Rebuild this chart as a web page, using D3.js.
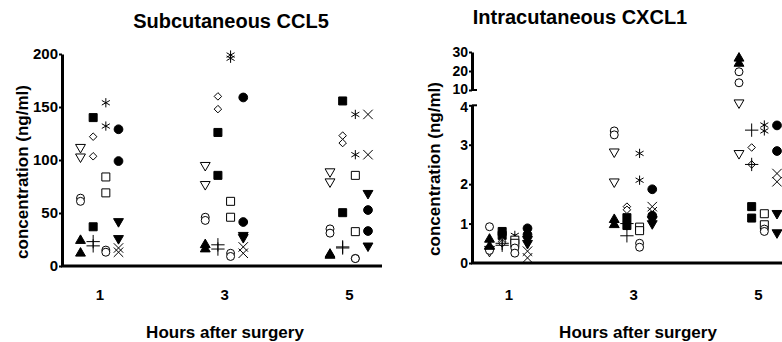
<!DOCTYPE html>
<html>
<head>
<meta charset="utf-8">
<script src="https://cdn.jsdelivr.net/npm/d3@7"></script>
<style>
  body { margin: 0; background: #fff; }
  svg { display: block; font-family: "Liberation Sans", Arial, sans-serif; font-weight: bold; }
  .axis path, .axis line { stroke: #000; }
  .axis text { font-size: 15px; font-weight: bold; fill: #000; }
  .axis.small text { font-size: 14px; }
</style>
</head>
<body>
<svg id="chart" width="782" height="342"></svg>
<script>
// hours on the x axis
const hours = [1, 3, 5];
// one symbol per series, in the order the values below are listed
const seriesNames = ["triDownOpen", "circleOpen", "triUpFilled", "squareFilled", "diamondOpen", "plus",
  "asterisk", "squareOpen", "circleSmall", "circleFilled", "triDownFilled", "cross"];
// column each series sits in, inside an hour group
const seriesColumn = [0, 0, 0, 1, 1, 1, 2, 2, 2, 3, 3, 3];

// Subcutaneous CCL5 (ng/ml), two values per series
const ccl5Hour1 = [[112, 103], [64, 61], [24, 12], [140, 37], [122, 103.5], [23, 19], [154, 132], [84, 69], [15, 13], [129, 99], [42, 26], [17, 13]];
const ccl5Hour3 = [[95, 77], [46, 43], [20, 16], [126, 85.5], [160, 148], [20, 16], [199, 196], [61, 46], [12, 9], [159, 41.5], [29, 27], [18, 12]];
const ccl5Hour5 = [[89, 79.5], [35, 31], [11, 10], [155.7, 50.3], [123, 116], [18, 17], [143, 105], [85.5, 32.4], [7.2, 7], [52.8, 33], [68.6, 19], [143, 105]];

// Intracutaneous CXCL1 (ng/ml)
const cxcl1Hour1 = [[0.35, 0.3], [0.92, 0.32], [0.6, 0.42], [0.8, 0.7], [0.55, 0.5], [0.5, 0.45], [0.7, 0.62], [0.58, 0.5], [0.38, 0.25], [0.88, 0.72], [0.6, 0.5], [0.3, 0.13]];
const cxcl1Hour3 = [[2.82, 2.06], [3.35, 3.25], [1.1, 0.97], [1.15, 0.95], [1.43, 1.35], [1.0, 0.69], [2.78, 2.1], [0.91, 0.82], [0.5, 0.4], [1.87, 1.2], [1.1, 1.0], [1.43, 1.3]];
const cxcl1Hour5 = [[5, 2.78], [19.6, 13.8], [26.7, 24], [1.43, 1.14], [2.93, 2.5], [3.37, 2.5], [3.5, 3.35], [1.25, 0.97], [0.86, 0.8], [3.49, 2.84], [1.26, 0.77], [2.27, 2.06]];

const ccl5Ticks = [0, 50, 100, 150, 200];
const cxcl1LowTicks = [0, 1, 2, 3, 4];
const cxcl1HighTicks = [10, 20, 30];

const svg = d3.select("#chart");

// symbol shape + fill per series
const symbolStyle = {
  triDownOpen:   { type: d3.symbolTriangle, size: 42, fill: "#fff", rot: 180 },
  circleOpen:    { type: d3.symbolCircle, size: 50, fill: "#fff" },
  triUpFilled:   { type: d3.symbolTriangle, size: 42, fill: "#000" },
  squareFilled:  { type: d3.symbolSquare, size: 64, fill: "#000" },
  diamondOpen:   { type: d3.symbolDiamond2, size: 36, fill: "#fff" },
  plus:          { type: d3.symbolPlus, size: 60, fill: "none" },
  asterisk:      { type: d3.symbolAsterisk, size: 60, fill: "none" },
  squareOpen:    { type: d3.symbolSquare, size: 64, fill: "#fff" },
  circleSmall:   { type: d3.symbolCircle, size: 50, fill: "#fff" },
  circleFilled:  { type: d3.symbolCircle, size: 60, fill: "#000" },
  triDownFilled: { type: d3.symbolTriangle, size: 42, fill: "#000", rot: 180 },
  cross:         { type: d3.symbolTimes, size: 60, fill: "none" }
};

const colScale = d3.scalePoint().domain([0, 1, 2, 3]).range([-19, 19]);
const intFmt = d3.format("d");

function flatten(hourArrays) {
  const pts = [];
  hourArrays.forEach((arr, hi) => {
    arr.forEach((pair, si) => {
      pair.forEach(v => pts.push({ hour: hours[hi], series: seriesNames[si], col: seriesColumn[si], value: v }));
    });
  });
  return pts;
}

function drawPoints(g, pts, x, y) {
  g.selectAll(".pt").data(pts).enter().append("path")
    .attr("class", "pt")
    .attr("d", d => d3.symbol().type(symbolStyle[d.series].type).size(symbolStyle[d.series].size)())
    .attr("transform", d => "translate(" + (x(d.hour) + colScale(d.col)) + "," + y(d.value) + ")" +
      (symbolStyle[d.series].rot ? " rotate(" + symbolStyle[d.series].rot + ")" : ""))
    .attr("fill", d => symbolStyle[d.series].fill)
    .attr("stroke", "#000")
    .attr("stroke-width", 1);
}

function styleYAxis(ax) {
  ax.select(".domain").attr("stroke-width", 3);
  ax.selectAll(".tick line").attr("stroke-width", 2);
}

// ---------- left panel: CCL5 ----------
const xL = d3.scalePoint().domain(hours).range([99.5, 349]);
const yL = d3.scaleLinear().domain([0, 200]).range([266, 54]);

svg.append("text").attr("x", 231).attr("y", 28).attr("text-anchor", "middle")
  .style("font-size", "20px").text("Subcutaneous CCL5");

svg.append("g").attr("class", "axis").attr("transform", "translate(62,0)")
  .call(d3.axisLeft(yL).tickValues(ccl5Ticks).tickFormat(intFmt).tickSize(3).tickPadding(1).tickSizeOuter(0))
  .call(styleYAxis);

svg.append("line").attr("x1", 61).attr("x2", 382).attr("y1", yL(0)).attr("y2", yL(0))
  .attr("stroke", "#000").attr("stroke-width", 3);

svg.append("g").attr("class", "axis").attr("transform", "translate(0,289)")
  .call(d3.axisBottom(xL).tickSize(0).tickPadding(0))
  .call(g => g.select(".domain").remove());

svg.append("text").attr("transform", "translate(28,172) rotate(-90)").attr("text-anchor", "middle")
  .style("font-size", "17px").text("concentration (ng/ml)");
svg.append("text").attr("x", 225).attr("y", 338).attr("text-anchor", "middle")
  .style("font-size", "17px").text("Hours after surgery");

drawPoints(svg.append("g"), flatten([ccl5Hour1, ccl5Hour3, ccl5Hour5]), xL, yL);

// ---------- right panel: CXCL1, broken y axis ----------
const xR = d3.scalePoint().domain(hours).range([508.5, 758]);
const yR = d3.scaleLinear().domain([0, 4, 10, 30]).range([263, 105.3, 90, 52]);
const yRLow = d3.scaleLinear().domain([0, 4]).range([263, 105.3]);
const yRHigh = d3.scaleLinear().domain([10, 30]).range([90, 52]);

svg.append("text").attr("x", 580).attr("y", 24).attr("text-anchor", "middle")
  .style("font-size", "20px").text("Intracutaneous CXCL1");

svg.append("g").attr("class", "axis small").attr("transform", "translate(472,0)")
  .call(d3.axisLeft(yRLow).tickValues(cxcl1LowTicks).tickFormat(intFmt).tickSize(3).tickPadding(1).tickSizeOuter(0))
  .call(styleYAxis)
  .call(g => g.selectAll(".tick text").filter(d => d === 4).attr("dy", "0.42em"));
svg.append("g").attr("class", "axis small").attr("transform", "translate(472,0)")
  .call(d3.axisLeft(yRHigh).tickValues(cxcl1HighTicks).tickFormat(intFmt).tickSize(3).tickPadding(1).tickSizeOuter(0))
  .call(styleYAxis)
  .call(g => g.selectAll(".tick text").filter(d => d === 10).attr("dy", "0.22em"));
// break caps
[4, 10].forEach(v => {
  svg.append("line").attr("x1", 472).attr("x2", 477).attr("y1", yR(v)).attr("y2", yR(v))
    .attr("stroke", "#000").attr("stroke-width", 2);
});

svg.append("line").attr("x1", 471).attr("x2", 782).attr("y1", yR(0)).attr("y2", yR(0))
  .attr("stroke", "#000").attr("stroke-width", 3);

svg.append("g").attr("class", "axis").attr("transform", "translate(0,289)")
  .call(d3.axisBottom(xR).tickSize(0).tickPadding(0))
  .call(g => g.select(".domain").remove());

svg.append("text").attr("transform", "translate(440,169) rotate(-90)").attr("text-anchor", "middle")
  .style("font-size", "17px").text("concentration (ng/ml)");
svg.append("text").attr("x", 638).attr("y", 338).attr("text-anchor", "middle")
  .style("font-size", "17px").text("Hours after surgery");

drawPoints(svg.append("g"), flatten([cxcl1Hour1, cxcl1Hour3, cxcl1Hour5]), xR, yR);
</script>
</body>
</html>
